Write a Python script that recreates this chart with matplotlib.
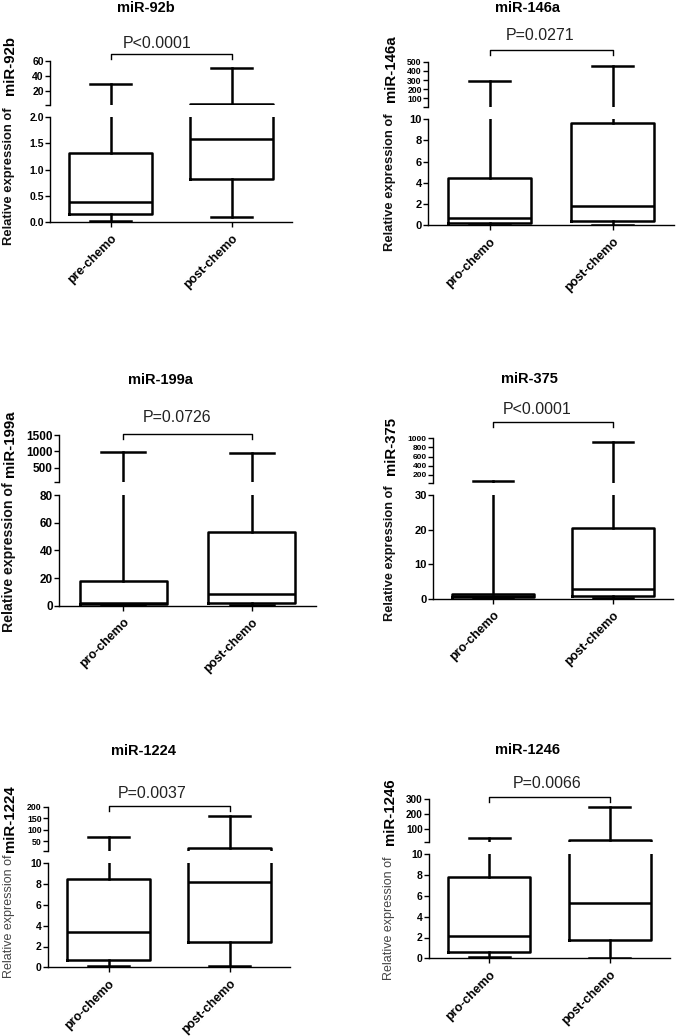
import matplotlib
matplotlib.use('Agg')
import matplotlib.pyplot as plt
from matplotlib.transforms import blended_transform_factory

plt.rcParams['font.family'] = ['Liberation Sans', 'DejaVu Sans']

# ---- data ----
mirnas = ['miR-92b', 'miR-146a', 'miR-199a', 'miR-375', 'miR-1224', 'miR-1246']
first_group = ['pre-chemo', 'pro-chemo', 'pro-chemo', 'pro-chemo', 'pro-chemo', 'pro-chemo']
second_group = 'post-chemo'
p_labels = ['P<0.0001', 'P=0.0271', 'P=0.0726', 'P<0.0001', 'P=0.0037', 'P=0.0066']

pre_whislo = [0.02, 0.05, 0.3, 0.1, 0.1, 0.1]
pre_q1 = [0.15, 0.25, 1.0, 0.4, 0.7, 0.6]
pre_med = [0.38, 0.66, 2.2, 0.8, 3.37, 2.14]
pre_q3 = [1.31, 4.42, 17.6, 1.36, 8.49, 7.85]
pre_whishi = [29, 285, 980, 60, 70, 40]

post_whislo = [0.095, 0.05, 0.5, 0.2, 0.1, 0.05]
post_q1 = [0.81, 0.44, 1.7, 0.9, 2.46, 1.76]
post_med = [1.59, 1.85, 8.7, 2.9, 8.17, 5.35]
post_q3 = [3.3, 9.6, 53.1, 20.4, 20, 23]
post_whishi = [51, 456, 960, 924, 161, 246]

# broken y axes: upper segment ticks / break value, lower segment ticks
upper_ticks = [[20, 40, 60], [100, 200, 300, 400, 500], [500, 1000, 1500],
               [200, 400, 600, 800, 1000], [50, 100, 150, 200], [100, 200, 300]]
break_lo = [2, 10, 80, 30, 10, 10]
lower_ticks = [[0, 0.5, 1.0, 1.5, 2.0], [0, 2, 4, 6, 8, 10], [0, 20, 40, 60, 80],
               [0, 10, 20, 30], [0, 2, 4, 6, 8, 10], [0, 2, 4, 6, 8, 10]]

# ---- layout (pixels, y from top) ----
W, H = 677, 1036
# left, right, upper top, upper bottom, lower top, lower bottom
rects = [(50, 292, 60.7, 105, 117, 222),
         (428, 674, 61.7, 106.7, 119, 225.3),
         (59, 316, 435, 481.7, 495, 605.7),
         (433, 673, 438.3, 482.7, 495, 598.7),
         (48, 290, 806.7, 850.7, 863.3, 967.3),
         (429, 670, 798.7, 842, 854.3, 958.3)]
title_xy = [(146, 8), (527, 7.5), (160, 380), (529, 379), (144, 751), (527, 750)]
ptext_xy = [(157, 43), (540, 35), (177, 418), (537, 410), (152, 793), (547, 783)]
bracket_y = [54.3, 50, 434.3, 421.7, 806, 796.7]
# ylabel: x, top of prefix, bottom of bold part, prefix size, prefix weight, prefix color
ylab = [(9, 107, 95, 9.4, 'bold', '#111111'), (390, 113, 102, 9.4, 'bold', '#111111'),
        (9, 482, 477, 10.2, 'bold', '#111111'), (390, 485, 475, 9.2, 'bold', '#111111'),
        (9, 855, 852, 9, 'normal', '#444444'), (389, 857, 845, 9, 'normal', '#444444')]
upper_fs = [7.5, 6.2, 8.5, 6, 6.3, 7.2]
lower_fs = [7.5, 8, 8.5, 8, 7.5, 7.5]

fig = plt.figure(figsize=(W / 100, H / 100), dpi=100)


def rect(x0, x1, ytop, ybot):
    return [x0 / W, 1 - ybot / H, (x1 - x0) / W, (ybot - ytop) / H]


def fx(x):
    return x / W


def fy(y):
    return 1 - y / H


lw_box = 1.8
for i, name in enumerate(mirnas):
    L, R, ut, ub, lt, lb = rects[i]
    ax_up = fig.add_axes(rect(L, R, ut, ub))
    ax_lo = fig.add_axes(rect(L, R, lt, lb))
    stats = [dict(whislo=pre_whislo[i], q1=pre_q1[i], med=pre_med[i], q3=pre_q3[i],
                  whishi=pre_whishi[i], label=first_group[i]),
             dict(whislo=post_whislo[i], q1=post_q1[i], med=post_med[i], q3=post_q3[i],
                  whishi=post_whishi[i], label=second_group)]
    lo_top = lower_ticks[i][-1]
    for ax in (ax_up, ax_lo):
        parts = ax.bxp(stats, positions=[1, 2], widths=0.68, showfliers=False,
                       boxprops=dict(color='black', lw=lw_box),
                       whiskerprops=dict(color='black', lw=lw_box),
                       capprops=dict(color='black', lw=lw_box),
                       medianprops=dict(color='black', lw=lw_box))
        # hide pieces that lie entirely in the other segment (thick lines bleed otherwise)
        for key in ('boxes', 'medians', 'caps', 'whiskers'):
            for art in parts[key]:
                yd = art.get_ydata()
                if ax is ax_up and max(yd) < break_lo[i]:
                    art.set_visible(False)
                if ax is ax_lo and min(yd) > lo_top:
                    art.set_visible(False)
        ax.set_xlim(0.5, 2.5)
        for s in ('top', 'right'):
            ax.spines[s].set_visible(False)
        ax.spines['left'].set_linewidth(1.0)
        ax.spines['bottom'].set_linewidth(1.0)
        ax.tick_params(axis='both', direction='out', length=3.5, width=1.0, pad=1)

    # upper segment
    ut_list = upper_ticks[i]
    ax_up.set_ylim(break_lo[i], ut_list[-1])
    ax_up.set_yticks([break_lo[i]] + ut_list, labels=[''] + [str(t) for t in ut_list],
                     fontweight='bold', fontsize=upper_fs[i])
    ax_up.spines['bottom'].set_visible(False)
    ax_up.set_xticks([])

    # lower segment
    lt_list = lower_ticks[i]
    ax_lo.set_ylim(0, lo_top)
    if i == 0:
        lbls = ['%.1f' % t for t in lt_list]
    else:
        lbls = [str(t) for t in lt_list]
    ax_lo.set_yticks(lt_list, labels=lbls, fontweight='bold', fontsize=lower_fs[i])
    ax_lo.set_xticks([1, 2], labels=[first_group[i], second_group], rotation=45,
                     ha='right', va='top', rotation_mode='anchor',
                     fontweight='bold', fontsize=9)
    ax_lo.tick_params(axis='x', pad=4)

    # title and p-value bracket
    tx, ty = title_xy[i]
    fig.text(fx(tx), fy(ty), name, ha='center', va='center', fontsize=10.5, fontweight='bold')
    px, py = ptext_xy[i]
    fig.text(fx(px), fy(py), p_labels[i], ha='center', va='center', fontsize=11.5,
             color='#222222')
    tr = blended_transform_factory(ax_up.transData, fig.transFigure)
    by = fy(bracket_y[i])
    d = 5 / H
    ax_up.plot([1, 1, 2, 2], [by - d, by, by, by - d], color='black', lw=1.0,
               transform=tr, clip_on=False)

    # y label: prefix + bold miRNA name
    yx, ptop, bbot, pfs, pw, pcol = ylab[i]
    fig.text(fx(yx), fy(ptop), 'Relative expression of', rotation=90, ha='center',
             va='top', fontsize=pfs, fontweight=pw, color=pcol)
    fig.text(fx(yx + 1), fy(bbot), name, rotation=90, ha='center', va='bottom',
             fontsize=10.8, fontweight='bold')

fig.savefig('out.png', dpi=100, facecolor='white')
